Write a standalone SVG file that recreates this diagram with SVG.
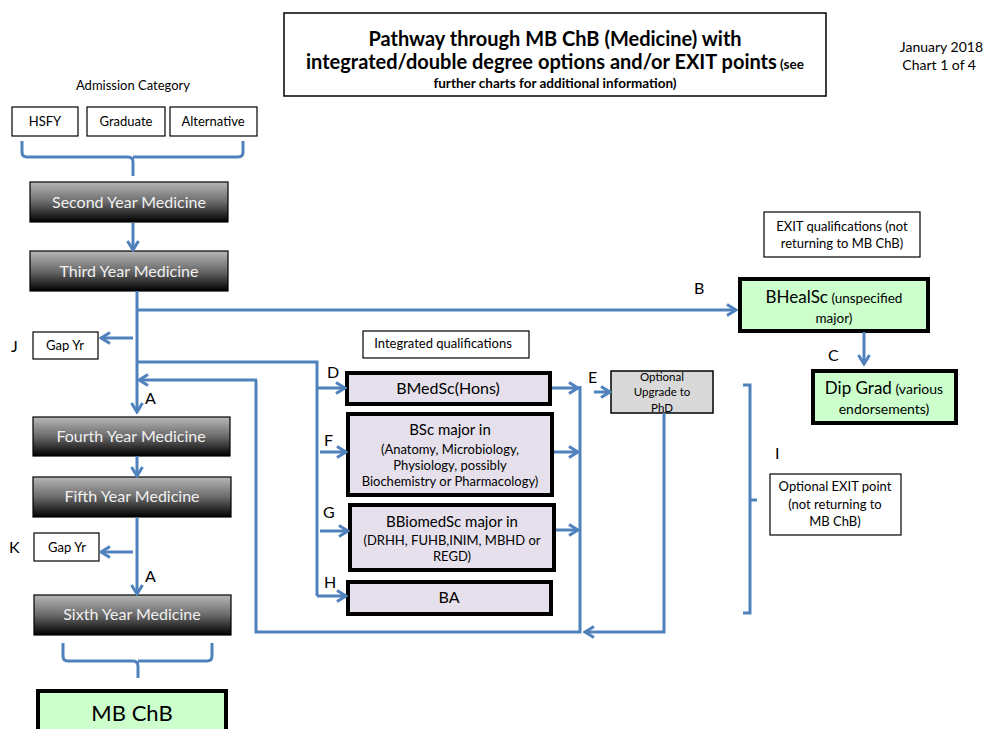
<svg xmlns="http://www.w3.org/2000/svg" width="986" height="729" viewBox="0 0 986 729">
<defs>
<linearGradient id="yr" x1="0" y1="0" x2="0" y2="1">
<stop offset="0" stop-color="#b8b8b8"/>
<stop offset="0.5" stop-color="#6a6a6a"/>
<stop offset="1" stop-color="#000"/>
</linearGradient>
<marker id="ah" viewBox="0 0 14 14" refX="12" refY="7" markerWidth="14" markerHeight="14" markerUnits="userSpaceOnUse" orient="auto">
<path d="M3,1.5 L12,7 L3,12.5" fill="none" stroke="#4f81bd" stroke-width="3" stroke-linejoin="miter"/>
</marker>
</defs>
<style>
text{font-family:Lato,"Open Sans","Liberation Sans",sans-serif;fill:#000}
.t{font-size:13px;text-anchor:middle}
.lbl{font-size:16px}
.yrbox{fill:url(#yr);stroke:#000;stroke-width:1.2}
.yrtxt{font-size:16px;text-anchor:middle;fill:#f0f0f0}
.plain{fill:#fff;stroke:#000;stroke-width:1.2}
.lav{fill:#e5e0ec;stroke:#000;stroke-width:4}
.grn{fill:#ccffcc;stroke:#000;stroke-width:4}
.gry{fill:#d9d9d9;stroke:#000;stroke-width:1.5}
.c{fill:none;stroke:#4f81bd;stroke-width:3}
.ca{fill:none;stroke:#4f81bd;stroke-width:3;marker-end:url(#ah)}
.big{font-size:15px;text-anchor:middle}
.sm{font-size:13px;text-anchor:middle}
</style>
<rect width="986" height="729" fill="#fff"/>

<g id="title">
<rect x="284" y="13" width="542" height="83" fill="#fff" stroke="#000" stroke-width="1.5"/>
<text x="555" y="46" font-size="20" font-weight="bold" text-anchor="middle">Pathway through MB ChB (Medicine) with</text>
<text x="555" y="69" font-size="20" font-weight="bold" text-anchor="middle">integrated/double degree options and/or EXIT points<tspan font-size="13.5"> (see</tspan></text>
<text x="555" y="88" font-size="13.5" font-weight="bold" text-anchor="middle">further charts for additional information)</text>
</g>
<g id="date">
<text x="983" y="52" font-size="14" text-anchor="end">January 2018</text>
<text x="976" y="70" font-size="14" text-anchor="end">Chart 1 of 4</text>
</g>

<g id="admission-label"><text class="t" x="133" y="90">Admission Category</text></g>
<g id="hsfy"><rect class="plain" x="12" y="107" width="66" height="29"/><text class="t" x="45" y="126">HSFY</text></g>
<g id="graduate"><rect class="plain" x="87" y="107" width="78" height="29"/><text class="t" x="126" y="126">Graduate</text></g>
<g id="alternative"><rect class="plain" x="170" y="107" width="87" height="29"/><text class="t" x="213" y="126">Alternative</text></g>

<g id="year2"><rect class="yrbox" x="30" y="182" width="198" height="40"/><text class="yrtxt" x="129" y="208">Second Year Medicine</text></g>
<g id="year3"><rect class="yrbox" x="30" y="251" width="198" height="40"/><text class="yrtxt" x="129" y="277">Third Year Medicine</text></g>
<g id="year4"><rect class="yrbox" x="33" y="417" width="197" height="39"/><text class="yrtxt" x="131" y="442">Fourth Year Medicine</text></g>
<g id="year5"><rect class="yrbox" x="33" y="477" width="198" height="40"/><text class="yrtxt" x="132" y="502">Fifth Year Medicine</text></g>
<g id="year6"><rect class="yrbox" x="34" y="595" width="197" height="40"/><text class="yrtxt" x="132" y="620">Sixth Year Medicine</text></g>

<g id="gapJ"><rect class="plain" x="33" y="332" width="65" height="27"/><text x="65" y="350" font-size="13" text-anchor="middle">Gap Yr</text><text class="lbl" x="11" y="352">J</text></g>
<g id="gapK"><rect class="plain" x="34" y="533" width="65" height="28"/><text x="67" y="552" font-size="13" text-anchor="middle">Gap Yr</text><text class="lbl" x="9" y="553">K</text></g>

<g id="mbchb"><rect class="grn" x="38" y="691" width="188" height="50"/><text x="132" y="721" font-size="22" text-anchor="middle">MB ChB</text></g>

<g id="integrated-label"><rect class="plain" x="363" y="331" width="166" height="27"/><text class="t" x="443" y="348">Integrated qualifications</text></g>
<g id="bmedsc"><rect class="lav" x="347" y="373" width="203" height="31"/><text x="448" y="394" font-size="16" text-anchor="middle">BMedSc(Hons)</text><text class="lbl" x="327" y="378">D</text></g>
<g id="bsc"><rect class="lav" x="348" y="414" width="204" height="81"/>
<text class="big" x="450" y="435">BSc major in</text>
<text class="sm" x="450" y="454">(Anatomy, Microbiology,</text>
<text class="sm" x="450" y="470">Physiology, possibly</text>
<text class="sm" x="450" y="486">Biochemistry or Pharmacology)</text>
<text class="lbl" x="324" y="446">F</text></g>
<g id="bbiomedsc"><rect class="lav" x="350" y="505" width="204" height="65"/>
<text class="big" x="452" y="527">BBiomedSc major in</text>
<text class="sm" x="452" y="545">(DRHH, FUHB,INIM, MBHD or</text>
<text class="sm" x="452" y="561">REGD)</text>
<text class="lbl" x="323" y="518">G</text></g>
<g id="ba"><rect class="lav" x="348" y="582" width="203" height="32"/><text x="449" y="603" font-size="16" text-anchor="middle">BA</text><text class="lbl" x="324" y="588">H</text></g>

<g id="phd"><rect class="gry" x="611" y="371" width="102" height="42"/>
<text x="662" y="381" font-size="11.5" text-anchor="middle">Optional</text>
<text x="662" y="396" font-size="11.5" text-anchor="middle">Upgrade  to</text>
<text x="662" y="412" font-size="11.5" text-anchor="middle">PhD</text>
<text class="lbl" x="588" y="383">E</text></g>

<g id="exit-label"><rect class="plain" x="764" y="212" width="156" height="45"/>
<text class="t" x="842" y="231">EXIT qualifications (not</text>
<text class="t" x="842" y="248">returning to MB ChB)</text></g>
<g id="bhealsc"><rect class="grn" x="740" y="279" width="188" height="52"/>
<text x="834" y="303" text-anchor="middle"><tspan font-size="17">BHealSc</tspan><tspan font-size="13.5"> (unspecified</tspan></text>
<text x="834" y="323" font-size="13.5" text-anchor="middle">major)</text>
<text class="lbl" x="694" y="294">B</text></g>
<g id="dipgrad"><rect class="grn" x="813" y="371" width="143" height="52"/>
<text x="884" y="394" text-anchor="middle"><tspan font-size="17">Dip Grad</tspan><tspan font-size="14"> (various</tspan></text>
<text x="884" y="414" font-size="14" text-anchor="middle">endorsements)</text>
<text class="lbl" x="828" y="361">C</text></g>
<g id="optional-exit"><rect class="plain" x="770" y="474" width="131" height="61"/>
<text class="t" x="835" y="491">Optional EXIT point</text>
<text class="t" x="835" y="509">(not returning to</text>
<text class="t" x="835" y="526">MB ChB)</text>
<text class="lbl" x="775" y="459">I</text></g>

<g id="a-labels">
<text class="lbl" x="145" y="404">A</text>
<text class="lbl" x="145" y="582">A</text>
</g>

<g id="connectors">
<path class="c" d="M22,141 V152 Q22,157 27,157 H128 Q133,157 133,162 V176 M133,157 H238 Q243,157 243,152 V141"/>
<path class="ca" d="M133,223 V250"/>
<path class="ca" d="M137,291 V412"/>
<path class="ca" d="M137,310 H736"/>
<path class="ca" d="M133,338 H101"/>
<path class="c" d="M137,362 H317 V596"/>
<path class="ca" d="M317,388 H345"/>
<path class="ca" d="M320,452 H346"/>
<path class="ca" d="M320,531 H348"/>
<path class="ca" d="M317,596 H346"/>
<path class="ca" d="M552,388 H578"/>
<path class="ca" d="M554,452 H578"/>
<path class="ca" d="M556,530 H578"/>
<path class="c" d="M580,386 V632 H256 V380"/>
<path class="ca" d="M257,380 H139"/>
<path class="ca" d="M594,392 H610"/>
<path class="ca" d="M664,413 V632 H585"/>
<path class="ca" d="M137,456 V476"/>
<path class="ca" d="M137,517 V594"/>
<path class="ca" d="M133,552 H101"/>
<path class="c" d="M63,643 V656 Q63,661 68,661 H133 Q138,661 138,666 V678 M138,661 H207 Q212,661 212,656 V643"/>
<path class="ca" d="M864,332 V364"/>
<path class="c" d="M743,385 H750 V613 H743 M750,500 H757"/>
</g>
</svg>
